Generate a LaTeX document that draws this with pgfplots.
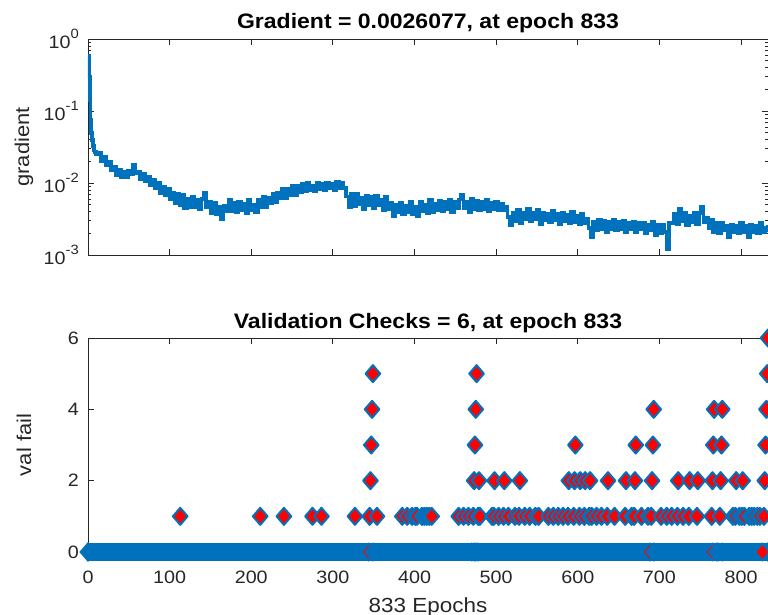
\documentclass[border=0pt]{standalone}
\usepackage{fontspec}
\setmainfont{Liberation Sans}
\newfontfamily\wfont[FakeStretch=1.1]{Liberation Sans}
\usepackage{pgfplots}
\pgfplotsset{compat=1.18}
\definecolor{mblue}{RGB}{0,114,189}
\definecolor{axgray}{RGB}{38,38,38}
\newcommand\sps[1]{\raisebox{0.6em}{\fontsize{13.5}{13.5}\selectfont #1}}
\pgfplotstableread{
e g
0 0.58
1 0.30
2 0.14
3 0.075
4 0.050
5 0.040
6 0.033
7 0.029
8 0.027
10 0.025
13 0.026
16 0.020
19 0.0227
22 0.0175
25 0.0198
28 0.0149
31 0.0170
34 0.0128
37 0.0151
40 0.0119
43 0.0143
46 0.0120
49 0.0146
52 0.0133
55 0.0179
58 0.0138
61 0.0142
64 0.0113
67 0.0134
70 0.0105
73 0.0121
76 0.0093
79 0.0110
82 0.0086
85 0.0101
88 0.0072
91 0.0088
94 0.0067
97 0.0083
100 0.0059
103 0.0073
106 0.0052
109 0.0070
112 0.0050
115 0.0068
118 0.0045
121 0.0061
124 0.0046
127 0.0065
130 0.0047
133 0.0058
136 0.0043
139 0.0060
142 0.0072
145 0.0046
148 0.0054
151 0.0038
154 0.0053
157 0.0037
160 0.0046
163 0.0032
166 0.0048
169 0.0041
172 0.0058
175 0.0041
178 0.0053
181 0.0039
184 0.0054
187 0.0042
190 0.0052
193 0.0038
196 0.0058
199 0.0042
202 0.0050
205 0.0040
208 0.0058
211 0.0046
214 0.0064
217 0.0047
220 0.0063
223 0.0053
226 0.0071
229 0.0054
232 0.0073
235 0.0061
238 0.0082
241 0.0062
244 0.0083
247 0.0069
250 0.0091
253 0.0069
256 0.0091
259 0.0075
262 0.0096
265 0.0077
268 0.0100
271 0.0080
274 0.0091
277 0.0077
280 0.0101
283 0.0082
286 0.0097
289 0.0079
292 0.0099
295 0.0084
298 0.0097
301 0.0079
304 0.0102
307 0.0085
310 0.0100
313 0.0085
316 0.0065
319 0.0046
322 0.0070
325 0.0048
328 0.0071
331 0.0051
334 0.0063
337 0.0044
340 0.0067
343 0.0049
346 0.0064
349 0.0045
352 0.0066
355 0.0050
358 0.0059
361 0.0042
364 0.0065
367 0.0043
370 0.0053
373 0.0035
376 0.0050
379 0.0040
382 0.0053
385 0.0037
388 0.0048
391 0.0040
394 0.0055
397 0.0037
400 0.0046
403 0.0035
406 0.0054
409 0.0041
412 0.0050
415 0.0038
418 0.0058
421 0.0040
424 0.0051
427 0.0042
430 0.0056
433 0.0041
436 0.0055
439 0.0044
442 0.0059
445 0.0040
448 0.0055
451 0.0045
454 0.0059
457 0.0069
460 0.0045
463 0.0055
466 0.0040
469 0.0060
472 0.0044
475 0.0056
478 0.0042
481 0.0054
484 0.0044
487 0.0058
490 0.0041
493 0.0053
496 0.0043
499 0.0055
502 0.0042
505 0.0052
508 0.0042
511 0.0047
514 0.0034
517 0.0026
520 0.0039
523 0.0030
526 0.0042
529 0.0028
532 0.0039
535 0.0032
538 0.0044
541 0.0030
544 0.0039
547 0.0032
550 0.0042
553 0.0027
556 0.0039
559 0.0031
562 0.0037
565 0.0029
568 0.0041
571 0.0031
574 0.0037
577 0.0027
580 0.0038
583 0.0030
586 0.0036
589 0.0028
592 0.0040
595 0.0029
598 0.0035
601 0.0027
604 0.0037
607 0.0028
610 0.0032
613 0.0024
616 0.0018
619 0.0029
622 0.0022
625 0.0031
628 0.0023
631 0.0030
634 0.0021
637 0.0029
640 0.0023
643 0.0031
646 0.0022
649 0.0029
652 0.0023
655 0.0030
658 0.0021
661 0.0028
664 0.0023
667 0.0029
670 0.0021
673 0.0028
676 0.0023
679 0.0028
682 0.0020
685 0.0026
688 0.0022
691 0.0029
694 0.0019
697 0.0026
700 0.0020
703 0.0026
706 0.0021
709 0.0012
712 0.0028
715 0.0028
718 0.0037
721 0.0027
724 0.0043
727 0.0030
730 0.0038
733 0.0026
736 0.0035
739 0.0029
742 0.0038
745 0.0027
748 0.0038
751 0.0046
754 0.0029
757 0.0033
760 0.0024
763 0.0031
766 0.0021
769 0.0028
772 0.0020
775 0.0028
778 0.0022
781 0.0025
784 0.0018
787 0.0026
790 0.0021
793 0.0025
796 0.0020
799 0.0028
802 0.0021
805 0.0025
808 0.0018
811 0.0026
814 0.0021
817 0.0025
820 0.0020
823 0.0028
826 0.0021
829 0.0024
832 0.0022
833 0.0026
}\gradtable
\pgfplotstableread{
e v
113 1
211 1
240 1
275 1
286 1
327 1
345 1
346 2
347 3
348 4
349 5
354 1
385 1
391 1
397 1
401 1
403 1
409 1
412 1
415 1
418 1
421 1
454 1
460 1
466 1
472 1
473 2
474 3
475 4
476 5
478 1
479 2
480 1
495 1
497 1
498 2
503 1
509 1
510 2
515 1
523 1
528 1
529 2
535 1
541 1
548 1
552 1
564 1
570 1
576 1
582 1
588 1
589 2
595 1
596 2
597 3
602 1
603 2
608 1
609 2
614 1
615 2
617 1
623 1
629 1
636 1
637 2
645 1
658 1
659 2
666 1
669 1
670 2
671 3
678 1
686 1
690 1
691 2
692 3
693 4
702 1
709 1
715 1
722 1
723 2
729 1
736 1
737 2
746 1
747 2
764 1
765 2
766 3
767 4
774 1
775 2
776 3
777 4
790 1
793 1
794 2
798 1
801 1
802 2
804 1
810 1
813 1
816 1
820 1
823 1
828 1
829 2
830 3
831 4
832 5
833 6
}\valtable
\begin{document}
\begin{tikzpicture}
\useasboundingbox (-88bp,-63bp) rectangle (680bp,552bp);
\pgfplotsset{
  mstyle/.style={
    scale only axis, width=680bp,
    xmin=0, xmax=833,
    axis line style={axgray, line width=0.8bp},
    every tick/.style={axgray, line width=0.8bp},
    major tick length=6bp, minor tick length=3.5bp,
    tick align=inside,
    xtick={0,100,...,800},
    tick label style={font=\wfont\fontsize{18}{20}\selectfont, text=axgray},
    /pgf/number format/assume math mode=true,
    every axis title/.style={at={(0.5,1)}, anchor=base, yshift=11bp, inner sep=0pt, font=\wfont\bfseries\fontsize{21}{24}\selectfont},
    every axis y label/.style={at={(axis description cs:0,0.5)}, xshift=-64bp, rotate=90, anchor=center, font=\wfont\fontsize{20}{22}\selectfont, text=axgray},
    every axis x label/.style={at={(axis description cs:0.5,0)}, yshift=-60bp, anchor=base, font=\wfont\fontsize{20.5}{22}\selectfont, text=axgray},
    xticklabel style={anchor=base, yshift=-31bp, inner sep=0pt},
    yticklabel style={anchor=east, xshift=-9bp, inner sep=0pt},
  },
  dmark/.style={only marks, mark=diamond*, mark size=8.5bp,
    mark options={line width=2bp, draw=mblue, fill=#1, xscale=1.15, line join=round}},
}
\begin{axis}[mstyle, at={(0bp,297bp)}, anchor=south west, height=216bp,
  ymode=log, ymin=1e-3, ymax=1,
  ytick={1e-3,1e-2,1e-1,1},
  yticklabels={10\sps{-3},10\sps{-2},10\sps{-1},10\sps{0}},
  xticklabels={},
  title={Gradient = 0.0026077, at epoch 833},
  ylabel={gradient}]
\addplot[mblue, line width=3.8bp, const plot, line join=miter] table[x=e,y=g] {\gradtable};
\end{axis}
\begin{axis}[mstyle, at={(0bp,0bp)}, anchor=south west, height=214bp,
  ymin=0, ymax=6, ytick={0,2,4,6}, clip=false,
  every axis title/.append style={yshift=-1bp},
  title={Validation Checks = 6, at epoch 833},
  ylabel={val fail}, xlabel={833 Epochs}]
\addplot[mblue, line width=18bp, mark=diamond*, mark size=8.5bp,
  mark options={line width=2bp, draw=mblue, fill=mblue, xscale=1.15, solid}]
  coordinates {(0,0) (833,0)};
\addplot[dmark=red] coordinates {(344,0) (470,0) (473,0) (688,0) (765,0) (772,0)};
\addplot[dmark=mblue] coordinates {(349,0) (475,0) (478,0) (693,0) (770,0) (777,0)};
\addplot[dmark=red] coordinates {(826,0)};
\addplot[dmark=red] table[x=e,y=v] {\valtable};
\end{axis}
\end{tikzpicture}
\end{document}
